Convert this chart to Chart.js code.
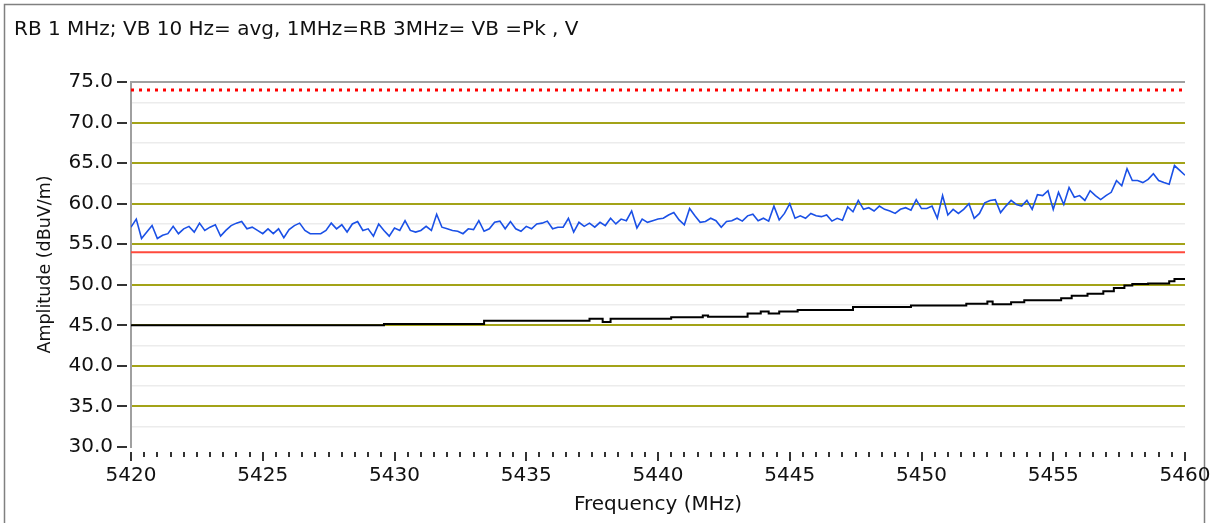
<!DOCTYPE html>
<html><head><meta charset="utf-8">
<script src="https://cdn.jsdelivr.net/npm/chart.js@4/dist/chart.umd.min.js"></script>
<style>html,body{margin:0;padding:0;background:#fff;}canvas{display:block;}</style>
</head><body>
<canvas id="c" width="1214" height="523"></canvas>
<script>
// ---------- data ----------
const chartTitle = "RB 1 MHz; VB 10 Hz= avg, 1MHz=RB 3MHz= VB =Pk , V";
const xAxisTitle = "Frequency (MHz)";
const yAxisTitle = "Amplitude (dBuV/m)";

const xMajorTicks = [5420, 5425, 5430, 5435, 5440, 5445, 5450, 5455, 5460];
const xMinorStep = 0.5;
const yMajorTicks = [30, 35, 40, 45, 50, 55, 60, 65, 70, 75];
const yMinorTicks = [32.5, 37.5, 42.5, 47.5, 52.5, 57.5, 62.5, 67.5, 72.5];

// Peak trace (blue), sampled every 0.2 MHz from 5420 MHz
const peakStartFreq = 5420;
const peakStepFreq = 0.2;
const peakValues = [
  57.1, 58.1, 55.7, 56.5, 57.3, 55.7, 56.1, 56.3, 57.2, 56.3,
  56.9, 57.2, 56.5, 57.6, 56.7, 57.1, 57.4, 56.0, 56.7, 57.3,
  57.6, 57.8, 56.9, 57.1, 56.7, 56.3, 56.9, 56.3, 56.9, 55.8,
  56.8, 57.3, 57.6, 56.7, 56.3, 56.3, 56.3, 56.7, 57.6, 56.9,
  57.4, 56.5, 57.5, 57.8, 56.7, 56.9, 56.0, 57.5, 56.7, 56.0,
  57.0,
  56.7, 57.9, 56.7, 56.5, 56.7, 57.2, 56.7, 58.7, 57.1, 56.9,
  56.7, 56.6, 56.3, 56.9, 56.8, 57.9, 56.6, 56.9, 57.7, 57.85,
  56.9, 57.8, 56.9, 56.6, 57.2, 56.9, 57.5, 57.6, 57.85, 56.9,
  57.1, 57.1, 58.2, 56.5, 57.7, 57.2, 57.6, 57.1, 57.7, 57.3,
  58.2, 57.5, 58.1, 57.9, 59.1, 57.0, 58.1, 57.7, 57.9, 58.1,
  58.2, 58.6, 58.9, 58.0, 57.4, 59.4, 58.5, 57.7, 57.8, 58.2,
  57.9, 57.1, 57.8, 57.9, 58.2, 57.85, 58.5, 58.7, 57.9, 58.2,
  57.85, 59.7, 58.0, 58.8, 60.0, 58.2, 58.5, 58.2, 58.8, 58.5,
  58.4, 58.6, 57.85, 58.2, 57.95, 59.6, 59.0, 60.4, 59.3, 59.5,
  59.1, 59.7, 59.3, 59.1, 58.8, 59.3, 59.5, 59.2, 60.5, 59.4,
  59.4, 59.7, 58.2, 61.0, 58.6, 59.3, 58.8, 59.3, 60.0, 58.2,
  58.8, 60.1, 60.4, 60.5, 58.9, 59.7, 60.4, 59.9, 59.7, 60.4,
  59.3, 61.1, 61.0, 61.6, 59.3, 61.4, 59.9, 62.0, 60.8, 61.0,
  60.4, 61.6, 61.0, 60.5, 61.0, 61.4, 62.85, 62.2, 64.3, 62.85,
  62.85, 62.6, 63.0, 63.7, 62.85, 62.6, 62.4, 64.7, 64.1, 63.5
];

// Average trace (black), level changes at these frequencies
const avgFreqs = [5420, 5429.6, 5433.4, 5437.4, 5437.9, 5438.2, 5440.5, 5441.7, 5441.9, 5443.4,
  5443.9, 5444.2, 5444.6, 5445.3, 5447.4, 5449.6, 5451.7, 5452.5, 5452.7, 5453.4,
  5453.9, 5455.3, 5455.7, 5456.3, 5456.9, 5457.3, 5457.7, 5458.0, 5458.6, 5459.4, 5459.6, 5460];
const avgValues = [45.0, 45.15, 45.55, 45.8, 45.4, 45.8, 46.0, 46.2, 46.05, 46.45,
  46.7, 46.45, 46.7, 46.9, 47.25, 47.45, 47.65, 47.95, 47.6, 47.85,
  48.1, 48.35, 48.65, 48.9, 49.2, 49.6, 49.9, 50.1, 50.15, 50.45, 50.7, 50.75];

// Limit lines
const limitFreqs = [5420, 5460];
const peakLimit = [74, 74];
const avgLimit = [54, 54];

// ---------- chart ----------
Chart.defaults.font.family = "'DejaVu Sans', sans-serif";
Chart.defaults.color = '#111';

const peakData = peakValues.map((v, i) => ({x: +(peakStartFreq + i * peakStepFreq).toFixed(2), y: v}));
const avgData = avgFreqs.map((f, i) => ({x: f, y: avgValues[i]}));
const peakLimitData = limitFreqs.map((f, i) => ({x: f, y: peakLimit[i]}));
const avgLimitData = limitFreqs.map((f, i) => ({x: f, y: avgLimit[i]}));

const framePlugin = {
  id: 'frame',
  beforeDraw(chart) {
    const ctx = chart.ctx;
    ctx.save();
    ctx.fillStyle = '#fff';
    ctx.fillRect(0, 0, chart.width, chart.height);
    ctx.strokeStyle = '#808080';
    ctx.lineWidth = 1.5;
    ctx.beginPath();
    ctx.moveTo(4.5, chart.height + 2);
    ctx.lineTo(4.5, 4.5);
    ctx.lineTo(1204.5, 4.5);
    ctx.lineTo(1204.5, chart.height + 2);
    ctx.stroke();
    ctx.restore();
  }
};

const tickMarkPlugin = {
  id: 'tickMarks',
  afterDraw(chart) {
    const ctx = chart.ctx;
    const xs = chart.scales.x, ys = chart.scales.y;
    const area = chart.chartArea;
    ctx.save();
    ctx.strokeStyle = '#333';
    ctx.lineWidth = 2;
    ctx.beginPath();
    yMajorTicks.forEach(v => {
      const py = Math.round(ys.getPixelForValue(v));
      ctx.moveTo(area.left - 14, py);
      ctx.lineTo(area.left - 4, py);
    });
    const major = new Set(xMajorTicks);
    for (let f = xMajorTicks[0]; f <= xMajorTicks[xMajorTicks.length - 1] + 1e-6; f += xMinorStep) {
      const fr = Math.round(f * 10) / 10;
      const px = Math.round(xs.getPixelForValue(fr));
      const isMajor = major.has(fr);
      ctx.moveTo(px, area.bottom + 5);
      ctx.lineTo(px, area.bottom + (isMajor ? 14 : 10));
    }
    ctx.stroke();
    ctx.restore();
  }
};

new Chart(document.getElementById('c'), {
  type: 'line',
  data: {
    datasets: [
      {label: 'Peak', data: peakData, borderColor: '#1a50e6', borderWidth: 1.6, pointRadius: 0, tension: 0},
      {label: 'Average', data: avgData, borderColor: '#000', borderWidth: 2, pointRadius: 0, stepped: 'before'},
      {label: 'Avg limit', data: avgLimitData, borderColor: '#ff4a3c', borderWidth: 2, pointRadius: 0},
      {label: 'Peak limit', data: peakLimitData, borderColor: '#ff0000', borderWidth: 3, borderDash: [3, 5], borderCapStyle: 'butt', pointRadius: 0}
    ]
  },
  options: {
    responsive: false,
    animation: false,
    devicePixelRatio: 1,
    layout: {padding: {left: 14, right: 29, top: 0, bottom: 0}},
    plugins: {
      legend: {display: false},
      tooltip: {enabled: false},
      title: {
        display: true, text: chartTitle, align: 'start', color: '#111',
        font: {size: 20, weight: 'normal', lineHeight: 1.2},
        padding: {top: 18, bottom: 40}
      }
    },
    scales: {
      x: {
        type: 'linear', min: 5420, max: 5460,
        afterBuildTicks: s => { s.ticks = xMajorTicks.map(v => ({value: v})); },
        afterFit: s => { s.height = 76; s.paddingLeft = 0; s.paddingRight = 0; },
        grid: {display: false, drawTicks: false},
        border: {display: false},
        ticks: {padding: 16.5, color: '#111', font: {size: 20}, autoSkip: false, maxRotation: 0,
          callback: v => String(v)},
        title: {display: true, text: xAxisTitle, color: '#111', font: {size: 20}, padding: {top: 0, bottom: 6}}
      },
      y: {
        min: 30, max: 75,
        afterBuildTicks: s => { s.ticks = yMajorTicks.concat(yMinorTicks).sort((a, b) => a - b).map(v => ({value: v})); },
        afterFit: s => { s.width = 117; s.paddingTop = 0; s.paddingBottom = 0; },
        grid: {
          drawTicks: false,
          color: c => {
            const v = c.tick && c.tick.value;
            if (v === 75) return '#a0a0a0';
            if (v === 30) return 'rgba(0,0,0,0)';
            return yMajorTicks.includes(v) ? '#a3a318' : '#ececec';
          },
          lineWidth: c => (c.tick && yMajorTicks.includes(c.tick.value)) ? 2 : 1.5
        },
        border: {display: true, color: '#a0a0a0', width: 2},
        ticks: {padding: 18, color: '#111', font: {size: 20}, autoSkip: false,
          callback: v => yMajorTicks.includes(v) ? v.toFixed(1) : ''},
        title: {display: true, text: yAxisTitle, color: '#111', font: {size: 17.5}, padding: {top: 20.5, bottom: 0}}
      }
    }
  },
  plugins: [framePlugin, tickMarkPlugin]
});
</script>
</body></html>
